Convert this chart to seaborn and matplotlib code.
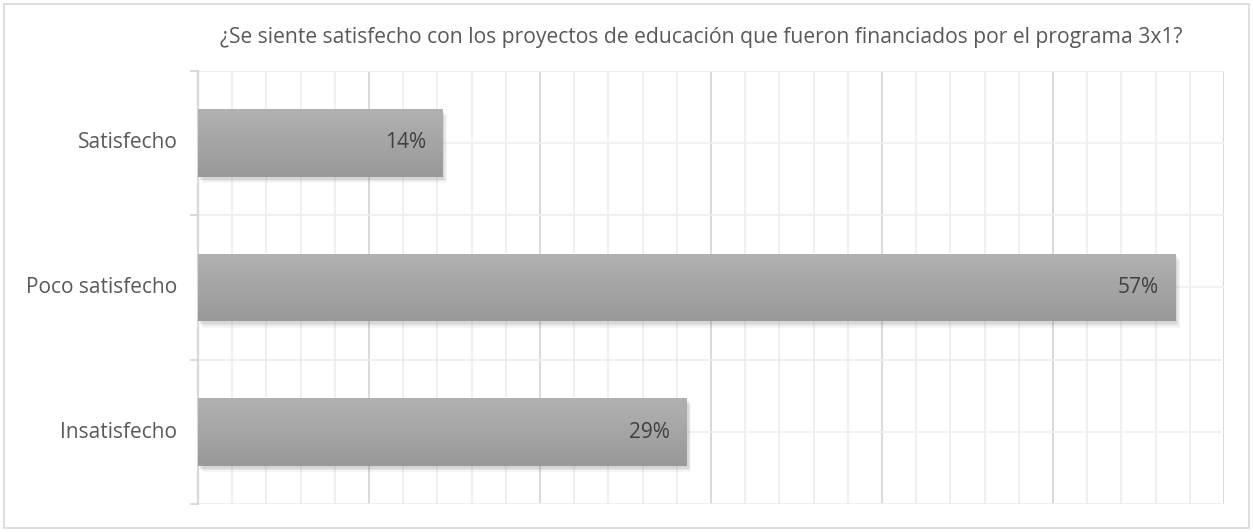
import numpy as np
import pandas as pd
import seaborn as sns
import matplotlib
matplotlib.use('Agg')
import matplotlib.pyplot as plt
import matplotlib.patheffects as pe
from matplotlib.colors import LinearSegmentedColormap
from matplotlib.ticker import MultipleLocator

# Data
categories = ['Satisfecho', 'Poco satisfecho', 'Insatisfecho']
percentages = [14.29, 57.14, 28.57]
value_labels = ['14%', '57%', '29%']
title = '¿Se siente satisfecho con los proyectos de educación que fueron financiados por el programa 3x1?'

df = pd.DataFrame({'Respuesta': categories, 'Porcentaje': percentages})

sns.set_style('white')
plt.rcParams['font.family'] = ['Open Sans', 'DejaVu Sans']

fig = plt.figure(figsize=(12.53, 5.32), dpi=100)
ax = fig.add_axes([0.1580, 0.0521, 0.8189, 0.8150])

sns.barplot(data=df, x='Porcentaje', y='Respuesta', orient='h',
            color='#a5a5a5', width=0.47, ax=ax, zorder=3)

# Gradient fill + soft shadow on each bar
grad = LinearSegmentedColormap.from_list('g', ['#b1b1b1', '#999999'])
shadow = [pe.SimplePatchShadow(offset=(o, -o * 1.3), alpha=a, shadow_rgbFace='#606060')
          for o, a in [(3.5, 0.06), (2.5, 0.09), (1.5, 0.12)]]
for bar in ax.patches:
    x0, y0 = bar.get_x(), bar.get_y()
    w, h = bar.get_width(), bar.get_height()
    bar.set_edgecolor('none')
    bar.set_path_effects(shadow + [pe.Normal()])
    img = ax.imshow(np.linspace(0, 1, 64).reshape(-1, 1), cmap=grad,
                    aspect='auto', extent=(x0, x0 + w, y0 + h, y0),
                    zorder=4, interpolation='bicubic')
    img.set_clip_path(bar)

# Value labels at the inside end
for i, (v, lab) in enumerate(zip(percentages, value_labels)):
    ax.text(v - 0.95, i, lab, ha='right', va='center', fontsize=15,
            color='#404040', zorder=6)

ax.set_xlim(0, 60)
ax.set_ylim(2.5, -0.5)
ax.xaxis.set_major_locator(MultipleLocator(10))
ax.xaxis.set_minor_locator(MultipleLocator(2))
ax.yaxis.set_minor_locator(MultipleLocator(0.5))
ax.set_yticks([-0.5, 0.5, 1.5, 2.5], minor=False)
ax.set_yticklabels([])
for i, c in enumerate(categories):
    ax.text(-1.2, i, c, ha='right', va='center', fontsize=15, color='#595959')

ax.grid(which='major', axis='x', color='#d9d9d9', linewidth=1.4, zorder=0)
ax.grid(which='minor', axis='x', color='#eeeeee', linewidth=1.2, zorder=0)
ax.grid(which='minor', axis='y', color='#f0f0f0', linewidth=1.2, zorder=0)
ax.grid(which='major', axis='y', color='#eeeeee', linewidth=1.2, zorder=0)
ax.set_axisbelow(True)

for s in ['top', 'right', 'bottom']:
    ax.spines[s].set_visible(False)
ax.spines['left'].set_color('#d9d9d9')
ax.spines['left'].set_linewidth(1.6)
ax.tick_params(axis='y', which='major', length=6, width=1.4, color='#d9d9d9', left=True)
ax.tick_params(axis='y', which='minor', length=0)
ax.tick_params(axis='x', which='both', length=0, labelbottom=False)
ax.set_xlabel('')
ax.set_ylabel('')

fig.text(0.5598, 1 - 37 / 532, title, ha='center', va='center',
         fontsize=15.2, color='#595959')

# Light border around the chart area
fig.patches.append(plt.Rectangle((0.003, 0.008), 0.994, 0.984, transform=fig.transFigure,
                                 fill=False, edgecolor='#d9d9d9', linewidth=1.2))

fig.savefig('out.png', dpi=100)
plt.close(fig)
